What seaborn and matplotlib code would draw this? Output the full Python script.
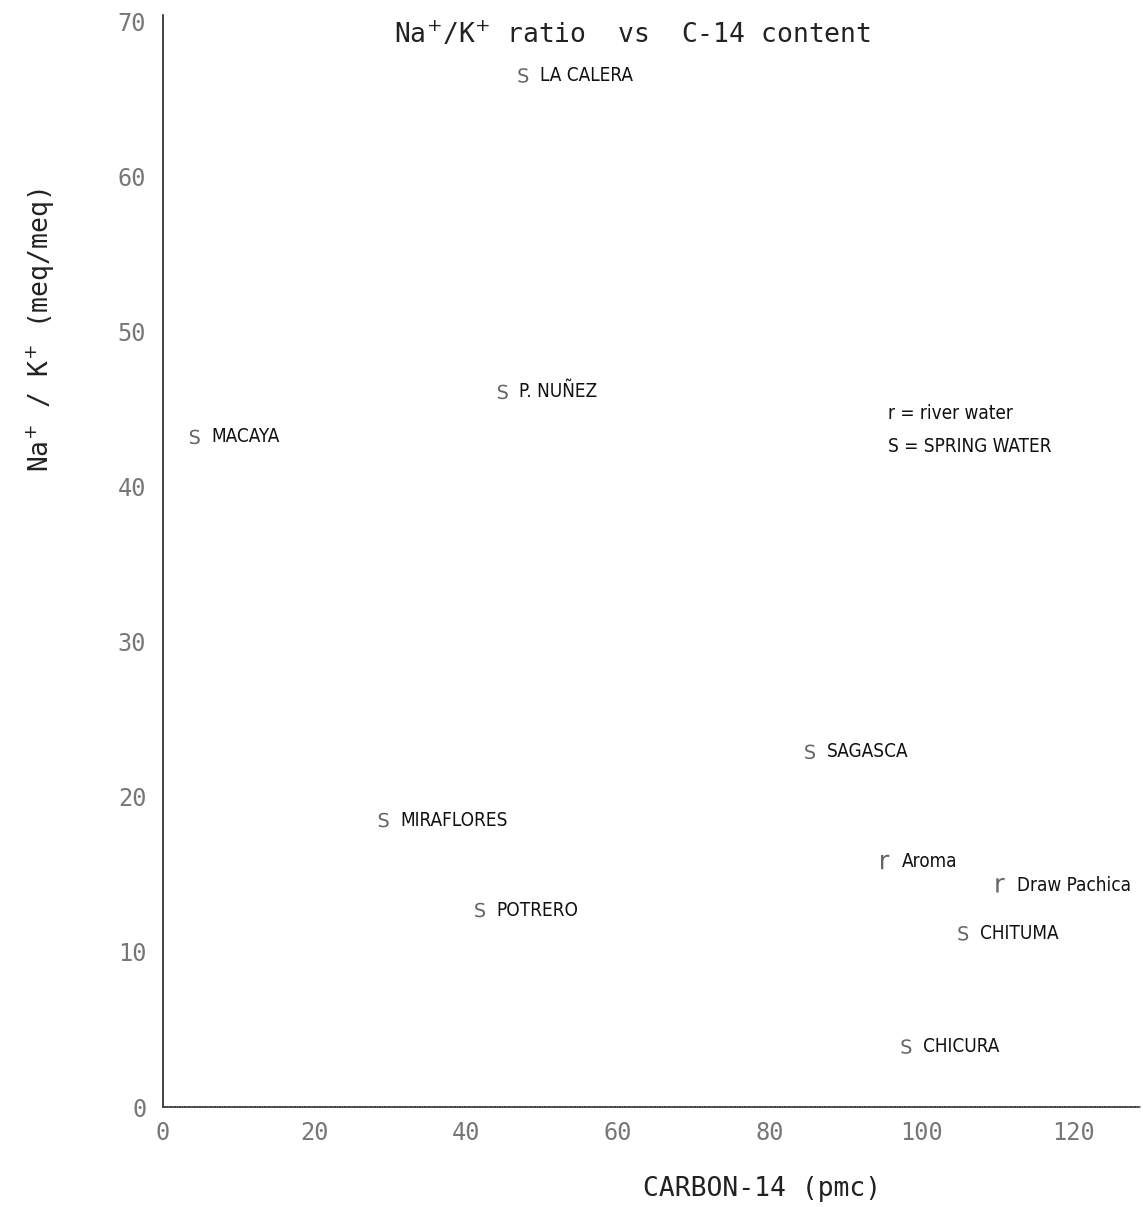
import matplotlib
matplotlib.use("Agg")
import matplotlib.pyplot as plt
from matplotlib import font_manager
import seaborn as sns
import pandas as pd

sites = ["LA CALERA", "P. NUÑEZ", "MACAYA", "SAGASCA", "MIRAFLORES",
         "POTRERO", "Aroma", "Draw Pachica", "CHITUMA", "CHICURA"]
carbon14 = [47.5, 44.8, 4.2, 85.3, 29.1, 41.8, 95.2, 110.4, 105.5, 98.0]
na_k_ratio = [66.5, 46.1, 43.2, 22.9, 18.5, 12.7, 15.8, 14.3, 11.2, 3.9]
water_type = ["S", "S", "S", "S", "S", "S", "r", "r", "S", "S"]
x_ticks = [0, 20, 40, 60, 80, 100, 120]
y_ticks = [0, 10, 20, 30, 40, 50, 60, 70]

df = pd.DataFrame({"site": sites, "c14": carbon14, "ratio": na_k_ratio,
                   "type": water_type})

sns.set_style("white")
plt.rcParams["font.family"] = ["DejaVu Sans"]

names = {f.name for f in font_manager.fontManager.ttflist}
if "Liberation Sans Narrow" in names:
    label_family = ["Liberation Sans Narrow", "DejaVu Sans"]
    label_stretch = "normal"
    label_size = 14.7
else:
    label_family = ["DejaVu Sans"]
    label_stretch = "condensed"
    label_size = 13.6

fig = plt.figure(figsize=(11.43, 12.07), dpi=100)
ax = fig.add_axes([0.1426, 0.0828, 0.8548, 0.9048])

sns.scatterplot(data=df, x="c14", y="ratio", style="type",
                markers={"S": r"$\mathrm{S}$", "r": r"$\mathrm{r}$"}, s=110,
                color="#666666", linewidth=0, legend=False, ax=ax)

label_font = dict(family=label_family, fontstretch=label_stretch,
                  fontsize=label_size, color="#111111", va="center",
                  ha="left")
for name, xv, yv in zip(sites, carbon14, na_k_ratio):
    ax.annotate(name, (xv, yv), xytext=(12, 0), textcoords="offset points",
                **label_font)

ax.text(95.6, 44.7, "r = river water", **label_font)
ax.text(95.6, 42.6, "S = SPRING WATER", **label_font)

ax.set_xlim(0, 128.8)
ax.set_ylim(0, 70.4)
ax.set_xticks(x_ticks)
ax.set_yticks(y_ticks)
ax.tick_params(direction="in", length=6, width=1, colors="#333333",
               labelsize=17, labelcolor="#777777")
ax.tick_params(axis="y", pad=12)
ax.tick_params(axis="x", pad=10)
for lab in ax.get_xticklabels() + ax.get_yticklabels():
    lab.set_family(["DejaVu Sans Mono"])
    lab.set_fontweight("light")

for side in ["top", "right"]:
    ax.spines[side].set_visible(False)
ax.spines["left"].set_color("#222222")
ax.spines["bottom"].set_color("#444444")
ax.spines["bottom"].set_linestyle((0, (1, 0.5)))
ax.spines["left"].set_linewidth(1.2)
ax.spines["bottom"].set_linewidth(1.2)

ax.set_xlabel("CARBON-14 (pmc)", family="DejaVu Sans Mono", fontsize=19,
              color="#222222")
ax.set_ylabel("Na$^{+}$ / K$^{+}$ (meq/meq)", family="DejaVu Sans Mono",
              fontsize=19, color="#222222")
ax.xaxis.set_label_coords(0.613, -0.063)
ax.yaxis.set_label_coords(-0.108, 0.7115)

fig.text(0.553, 0.971, "Na$^{+}$/K$^{+}$ ratio  vs  C-14 content",
         family="DejaVu Sans Mono", fontsize=19, color="#222222",
         ha="center", va="center")

fig.savefig("out.png", dpi=100)
